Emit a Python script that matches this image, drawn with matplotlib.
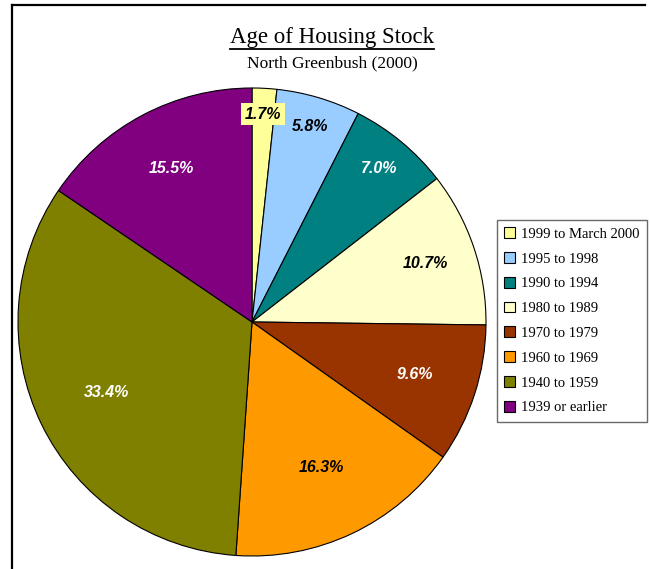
import numpy as np
import matplotlib.pyplot as plt
from matplotlib.lines import Line2D

# data
categories = ['1999 to March 2000', '1995 to 1998', '1990 to 1994', '1980 to 1989',
              '1970 to 1979', '1960 to 1969', '1940 to 1959', '1939 or earlier']
shares = [1.7, 5.8, 7.0, 10.7, 9.6, 16.3, 33.4, 15.5]
colors = ['#FFFF99', '#99CCFF', '#008080', '#FFFFCC',
          '#993300', '#FF9900', '#808000', '#800080']
label_colors = ['black', 'black', 'white', 'black', 'white', 'black', 'white', 'white']
label_dist = [0.89, 0.87, 0.85, 0.78, 0.73, 0.69, 0.69, 0.74]

W, H = 650, 569
fig = plt.figure(figsize=(W / 100, H / 100), dpi=100)

# pie centre (252, 322) px, radius 234 px
cx, cy, r = 252, 322, 234
ax = fig.add_axes([(cx - r) / W, (H - cy - r) / H, 2 * r / W, 2 * r / H])
wedges, _ = ax.pie(shares, colors=colors, startangle=90, counterclock=False,
                   wedgeprops=dict(edgecolor='black', linewidth=0.8))
ax.set_xlim(-1, 1)
ax.set_ylim(-1, 1)
ax.set_aspect('equal')
ax.axis('off')

for i, (w, val) in enumerate(zip(wedges, shares)):
    ang = np.deg2rad((w.theta1 + w.theta2) / 2)
    x = label_dist[i] * np.cos(ang)
    y = label_dist[i] * np.sin(ang)
    kw = {}
    if i == 0:
        kw['bbox'] = dict(facecolor='#FFFF99', edgecolor='none', pad=2.5)
    ax.text(x, y, f'{val:.1f}%', ha='center', va='center', color=label_colors[i],
            fontsize=11.5, fontweight='bold', fontstyle='italic',
            family='Liberation Sans', **kw)

# legend
leg = fig.legend(wedges, categories, loc='upper left',
                 bbox_to_anchor=(497 / W, 1 - 220 / H),
                 prop=dict(family='Liberation Serif', size=10.5),
                 frameon=True, fancybox=False, edgecolor='#444444',
                 handlelength=0.75, handleheight=0.75, handletextpad=0.4,
                 labelspacing=0.78, borderpad=0.5, borderaxespad=0)
leg.get_frame().set_linewidth(1.0)
for h in leg.legend_handles:
    h.set_edgecolor('black')
    h.set_linewidth(0.8)

# title + subtitle
title = fig.text(332 / W, 1 - 38 / H, 'Age of Housing Stock', ha='center', va='center',
                 family='Liberation Serif', fontsize=16.5)
fig.text(332 / W, 1 - 63 / H, 'North Greenbush (2000)', ha='center', va='center',
         family='Liberation Serif', fontsize=12.5)

fig.canvas.draw()
bb = title.get_window_extent(renderer=fig.canvas.get_renderer())
uy = (H - 49) / H
fig.add_artist(Line2D([bb.x0 / W, bb.x1 / W], [uy, uy], color='black', linewidth=1.3))

# frame lines (top and left)
fig.add_artist(Line2D([11.5 / W, 645 / W], [1 - 5 / H, 1 - 5 / H], color='black', linewidth=1.6))
fig.add_artist(Line2D([11.5 / W, 11.5 / W], [0, 1 - 5 / H], color='black', linewidth=1.6))

fig.savefig('out.png', dpi=100)
